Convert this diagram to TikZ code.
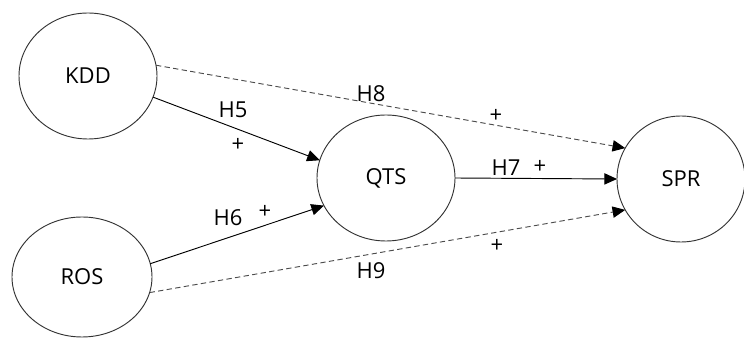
\documentclass[tikz,border=0pt]{standalone}
\usepackage{fontspec}
\setmainfont{Open Sans}
\usepackage{tikz}
\usetikzlibrary{arrows.meta,shapes.geometric}
\tikzset{
    construct/.style={draw=black!80,ellipse,line width=0.7pt,inner sep=0pt,
      outer sep=0pt},
    path line/.style={line width=0.7pt,draw=black,
      -{Triangle[length=9.5pt,width=8.5pt,color=black]}},
    dash line/.style={path line,draw=black!70,dash pattern=on 4pt off 2.5pt},
    hyp/.style={inner sep=0pt}
}

\begin{document}
\begin{tikzpicture}[x=0.75pt,y=-0.75pt,font=\fontsize{16.5}{19}\selectfont]
  \useasboundingbox (0,0) rectangle (744,338);

  % constructs
  \node [construct,minimum width=103.5pt,minimum height=94.5pt] (kdd)
  at (88,76) {KDD};
  \node [construct,minimum width=105pt,minimum height=90pt] (ros)
  at (82,277) {ROS};
  \node [construct,minimum width=103.5pt,minimum height=94.5pt] (qts)
  at (386,178) {QTS};
  \node [construct,minimum width=96pt,minimum height=94.5pt] (spr)
  at (681,179) {SPR};

  % direct paths
  \draw [path line] (kdd.-18) -- (qts.165);
  \draw [path line] (ros.11) -- (qts.204);
  \draw [path line] (qts.east) -- (spr.west);

  % indirect paths
  \draw [dash line] (kdd.9) -- (spr.151);
  \draw [dash line] (ros.-13) -- (spr.209);

  % labels
  \node [hyp] (h5) at (233,110) {H5};
  \node [hyp] (p5) at (238,145) {+};
  \node [hyp] (h6) at (228,218) {H6};
  \node [hyp] (p6) at (265,212) {+};
  \node [hyp] (h7) at (506,168) {H7};
  \node [hyp] (p7) at (540,167) {+};
  \node [hyp] (h8) at (371,94) {H8};
  \node [hyp] (p8) at (496,116) {+};
  \node [hyp] (h9) at (371,271) {H9};
  \node [hyp] (p9) at (497,246) {+};
\end{tikzpicture}
\end{document}
